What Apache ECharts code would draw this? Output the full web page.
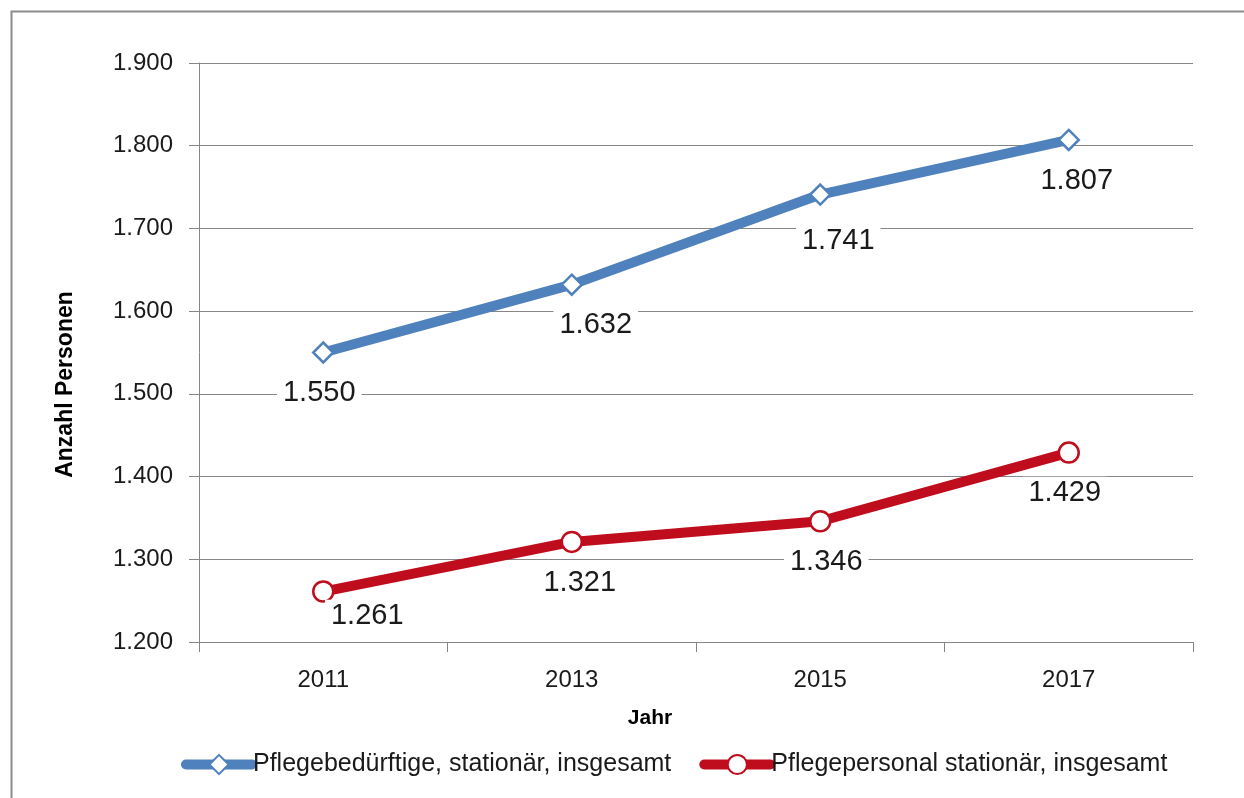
<!DOCTYPE html>
<html>
<head>
<meta charset="utf-8">
<script src="https://cdn.jsdelivr.net/npm/echarts@6/dist/echarts.min.js"></script>
<style>
    html, body { margin: 0; padding: 0; background: #fff; }
    #chart { width: 1244px; height: 798px; }
</style>
</head>
<body>
<div id="chart"></div>
<script>
var years = ['2011', '2013', '2015', '2017'];
var pflegebeduerftige = [1550, 1632, 1741, 1807];
var pflegepersonal = [1261, 1321, 1346, 1429];
var seriesNames = ['Pflegebedürftige, stationär, insgesamt', 'Pflegepersonal stationär, insgesamt'];

// label placement tweaks (Excel moved some labels aside)
var blueLabelShift = [[-4, 0], [24, 0], [18, 6], [8, 0]];
var redLabelShift = [[44, -16], [8, 0], [6, 0], [-4, 0]];

function fmt(v) {
    var s = String(v);
    return s.length > 3 ? s.slice(0, s.length - 3) + '.' + s.slice(s.length - 3) : s;
}

function withLabels(values, shifts) {
    return values.map(function (v, i) {
        return { value: v, label: { offset: shifts[i] } };
    });
}

var chart = echarts.init(document.getElementById('chart'));
var font = 'Liberation Sans, Arial, sans-serif';
var labelStyle = {
    show: true,
    position: 'bottom',
    distance: 13,
    fontSize: 29,
    fontFamily: font,
    color: '#1a1a1a',
    backgroundColor: '#fff',
    padding: [2, 6],
    formatter: function (p) { return fmt(p.value); }
};

var option = {
    animation: false,
    backgroundColor: '#fff',
    graphic: [{
        type: 'rect',
        left: 9, top: 9,
        shape: { width: 1260, height: 820 },
        style: { fill: 'none', stroke: '#8c8c8c', lineWidth: 2 },
        silent: true,
        z: -1
    }],
    grid: { left: 199, right: 51, top: 63, bottom: 156 },
    legend: {
        bottom: 16,
        left: 176,
        itemGap: 28,
        itemWidth: 66,
        itemHeight: 24,
        lineStyle: { width: 10 },
        textStyle: { fontSize: 25, fontFamily: font, color: '#1a1a1a', padding: [0, 0, 0, -4] },
        data: seriesNames
    },
    xAxis: {
        type: 'category',
        data: years,
        boundaryGap: true,
        name: 'Jahr',
        nameLocation: 'middle',
        nameGap: 66,
        nameTextStyle: { fontSize: 21, fontWeight: 'bold', fontFamily: font, color: '#000', padding: [0, 92, 0, 0] },
        axisLine: { lineStyle: { color: '#868686', width: 1 } },
        axisTick: { show: true, length: 10, interval: 0, lineStyle: { color: '#868686' } },
        axisLabel: { fontSize: 24, fontFamily: font, color: '#1a1a1a', margin: 26 },
        splitLine: { show: false }
    },
    yAxis: {
        type: 'value',
        min: 1200,
        max: 1900,
        interval: 100,
        name: 'Anzahl Personen',
        nameLocation: 'middle',
        nameGap: 122,
        nameRotate: 90,
        nameTextStyle: { fontSize: 23, fontWeight: 'bold', fontFamily: font, color: '#000', padding: [0, 64, 0, 0] },
        axisLine: { show: true, lineStyle: { color: '#868686', width: 1 } },
        axisTick: { show: true, length: 10, lineStyle: { color: '#868686' } },
        axisLabel: { fontSize: 24, fontFamily: font, color: '#1a1a1a', margin: 26, formatter: fmt },
        splitLine: { show: true, lineStyle: { color: '#868686', width: 1 } }
    },
    series: [
        {
            name: seriesNames[0],
            type: 'line',
            data: withLabels(pflegebeduerftige, blueLabelShift),
            symbol: 'diamond',
            symbolSize: 20,
            lineStyle: { color: '#4F81BD', width: 10, cap: 'round' },
            itemStyle: { color: '#fff', borderColor: '#4F81BD', borderWidth: 2.5 },
            label: labelStyle,
            z: 3
        },
        {
            name: seriesNames[1],
            type: 'line',
            data: withLabels(pflegepersonal, redLabelShift),
            symbol: 'circle',
            symbolSize: 20,
            lineStyle: { color: '#C00D1E', width: 10, cap: 'round' },
            itemStyle: { color: '#fff', borderColor: '#C00D1E', borderWidth: 2.5 },
            label: labelStyle,
            z: 3
        }
    ]
};
chart.setOption(option);
</script>
</body>
</html>
